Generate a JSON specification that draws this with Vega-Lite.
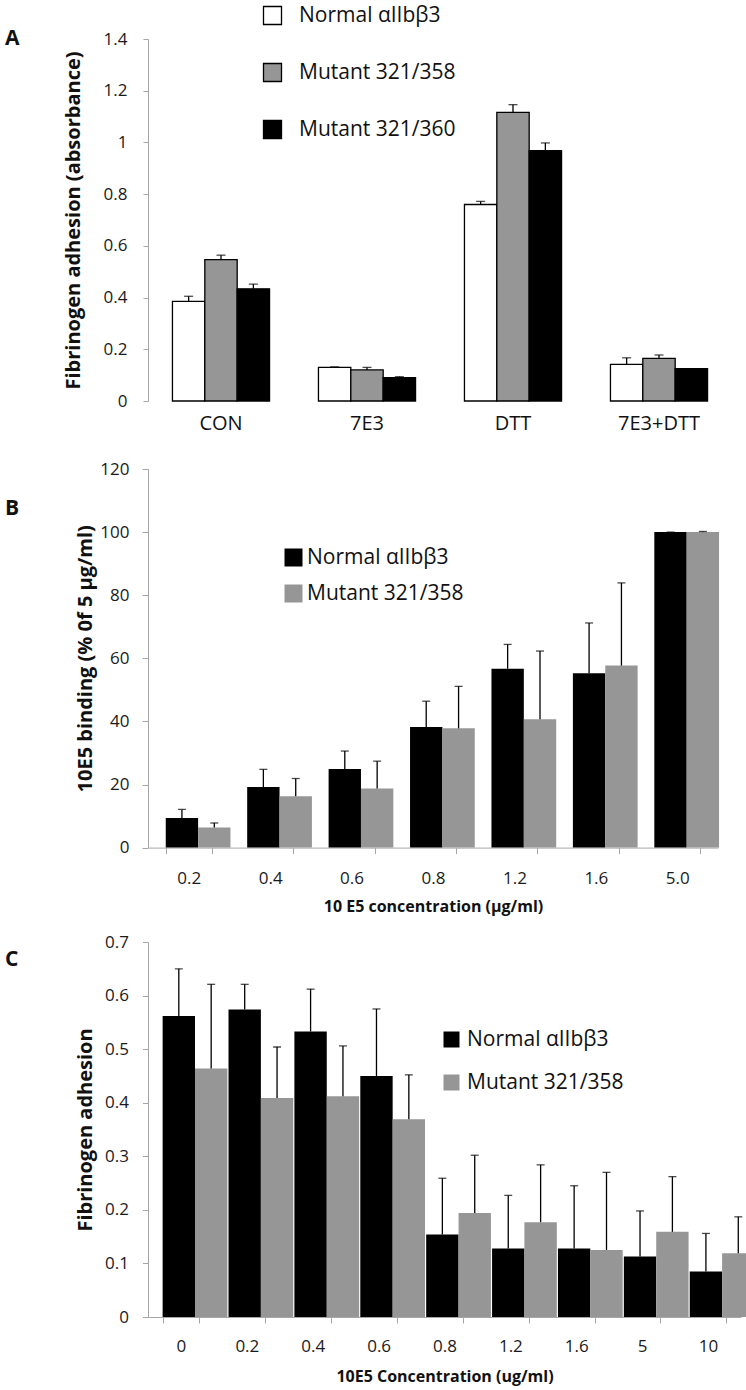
{
  "$schema": "https://vega.github.io/schema/vega-lite/v6.json",
  "background": "white",
  "padding": {"left": 5, "top": 5, "right": 5, "bottom": 5},
  "config": {
    "font": "Open Sans",
    "view": {"stroke": null},
    "axis": {"grid": false, "domainColor": "#a6a6a6", "tickColor": "#a6a6a6", "labelColor": "#1a1a1a", "titleColor": "#111111", "labelFontSize": 17, "titleFontSize": 20, "titleFontWeight": "bold", "labelFont": "Open Sans", "titleFont": "Open Sans"},
    "legend": {"labelFont": "Open Sans", "labelFontSize": 21, "labelColor": "#111111", "padding": 0, "symbolType": "square"},
    "title": {"font": "Open Sans", "fontSize": 21, "fontWeight": "bold", "color": "#111111", "anchor": "start", "frame": "group"}
  },
  "datasets": {
    "a": [
      {"condition": "CON", "series": "Normal αIIbβ3", "value": 0.385, "err": 0.405},
      {"condition": "CON", "series": "Mutant 321/358", "value": 0.547, "err": 0.564},
      {"condition": "CON", "series": "Mutant 321/360", "value": 0.434, "err": 0.452},
      {"condition": "7E3", "series": "Normal αIIbβ3", "value": 0.130, "err": 0.132},
      {"condition": "7E3", "series": "Mutant 321/358", "value": 0.120, "err": 0.130},
      {"condition": "7E3", "series": "Mutant 321/360", "value": 0.090, "err": 0.094},
      {"condition": "DTT", "series": "Normal αIIbβ3", "value": 0.760, "err": 0.772},
      {"condition": "DTT", "series": "Mutant 321/358", "value": 1.116, "err": 1.146},
      {"condition": "DTT", "series": "Mutant 321/360", "value": 0.968, "err": 0.998},
      {"condition": "7E3+DTT", "series": "Normal αIIbβ3", "value": 0.142, "err": 0.167},
      {"condition": "7E3+DTT", "series": "Mutant 321/358", "value": 0.165, "err": 0.178},
      {"condition": "7E3+DTT", "series": "Mutant 321/360", "value": 0.125, "err": 0.125}
    ],
    "b": [
      {"conc": "0.2", "series": "Normal αIIbβ3", "value": 9.4, "err": 12.1},
      {"conc": "0.2", "series": "Mutant 321/358", "value": 6.4, "err": 7.8},
      {"conc": "0.4", "series": "Normal αIIbβ3", "value": 19.2, "err": 24.8},
      {"conc": "0.4", "series": "Mutant 321/358", "value": 16.3, "err": 21.9},
      {"conc": "0.6", "series": "Normal αIIbβ3", "value": 24.9, "err": 30.6},
      {"conc": "0.6", "series": "Mutant 321/358", "value": 18.7, "err": 27.4},
      {"conc": "0.8", "series": "Normal αIIbβ3", "value": 38.2, "err": 46.4},
      {"conc": "0.8", "series": "Mutant 321/358", "value": 37.8, "err": 51.1},
      {"conc": "1.2", "series": "Normal αIIbβ3", "value": 56.7, "err": 64.4},
      {"conc": "1.2", "series": "Mutant 321/358", "value": 40.7, "err": 62.3},
      {"conc": "1.6", "series": "Normal αIIbβ3", "value": 55.3, "err": 71.2},
      {"conc": "1.6", "series": "Mutant 321/358", "value": 57.7, "err": 83.9},
      {"conc": "5.0", "series": "Normal αIIbβ3", "value": 100, "err": 100},
      {"conc": "5.0", "series": "Mutant 321/358", "value": 100, "err": 100.2}
    ],
    "c": [
      {"conc": "0", "series": "Normal αIIbβ3", "value": 0.562, "err": 0.650},
      {"conc": "0", "series": "Mutant 321/358", "value": 0.464, "err": 0.621},
      {"conc": "0.2", "series": "Normal αIIbβ3", "value": 0.574, "err": 0.621},
      {"conc": "0.2", "series": "Mutant 321/358", "value": 0.409, "err": 0.504},
      {"conc": "0.4", "series": "Normal αIIbβ3", "value": 0.533, "err": 0.612},
      {"conc": "0.4", "series": "Mutant 321/358", "value": 0.412, "err": 0.506},
      {"conc": "0.6", "series": "Normal αIIbβ3", "value": 0.450, "err": 0.575},
      {"conc": "0.6", "series": "Mutant 321/358", "value": 0.369, "err": 0.452},
      {"conc": "0.8", "series": "Normal αIIbβ3", "value": 0.154, "err": 0.259},
      {"conc": "0.8", "series": "Mutant 321/358", "value": 0.194, "err": 0.302},
      {"conc": "1.2", "series": "Normal αIIbβ3", "value": 0.128, "err": 0.227},
      {"conc": "1.2", "series": "Mutant 321/358", "value": 0.177, "err": 0.284},
      {"conc": "1.6", "series": "Normal αIIbβ3", "value": 0.128, "err": 0.245},
      {"conc": "1.6", "series": "Mutant 321/358", "value": 0.125, "err": 0.270},
      {"conc": "5", "series": "Normal αIIbβ3", "value": 0.113, "err": 0.198},
      {"conc": "5", "series": "Mutant 321/358", "value": 0.159, "err": 0.262},
      {"conc": "10", "series": "Normal αIIbβ3", "value": 0.085, "err": 0.156},
      {"conc": "10", "series": "Mutant 321/358", "value": 0.119, "err": 0.187}
    ]
  },
  "spacing": 27,
  "resolve": {"scale": {"fill": "independent"}, "legend": {"fill": "independent"}},
  "vconcat": [
    {
      "title": {"text": "A", "dx": -143, "dy": 48},
      "width": 584,
      "height": 362,
      "data": {"name": "a"},
      "encoding": {
        "x": {"field": "condition", "type": "nominal", "sort": ["CON", "7E3", "DTT", "7E3+DTT"],
              "scale": {"paddingInner": 0.335, "paddingOuter": 0.1675},
              "axis": {"title": null, "domain": false, "ticks": false, "tickSize": 0, "labelAngle": 0, "labelFontSize": 20, "labelPadding": 12, "labelColor": "#111111"}},
        "xOffset": {"field": "series", "type": "nominal", "sort": ["Normal αIIbβ3", "Mutant 321/358", "Mutant 321/360"], "scale": {"paddingInner": 0, "paddingOuter": 0}}
      },
      "layer": [
        {
          "mark": {"type": "bar", "stroke": "black", "strokeWidth": 1.3},
          "encoding": {
            "y": {"field": "value", "type": "quantitative", "scale": {"domain": [0, 1.4], "nice": false},
                  "axis": {"title": "Fibrinogen adhesion (absorbance)", "values": [0, 0.2, 0.4, 0.6, 0.8, 1, 1.2, 1.4], "format": "~g", "tickSize": 5, "labelPadding": 16, "titlePadding": 20}},
            "fill": {"field": "series", "type": "nominal", "sort": ["Normal αIIbβ3", "Mutant 321/358", "Mutant 321/360"],
                     "scale": {"domain": ["Normal αIIbβ3", "Mutant 321/358", "Mutant 321/360"], "range": ["#ffffff", "#969696", "#000000"]},
                     "legend": {"title": null, "orient": "none", "legendX": 114, "legendY": -34, "symbolSize": 324, "symbolStrokeColor": "#000000", "symbolStrokeWidth": 1.3, "rowPadding": 32, "labelOffset": 16}}
          }
        },
        {
          "mark": {"type": "rule", "color": "black", "strokeWidth": 1.3},
          "encoding": {
            "y": {"field": "value", "type": "quantitative"},
            "y2": {"field": "err"}
          }
        },
        {
          "mark": {"type": "tick", "color": "black", "thickness": 1.3, "size": 9},
          "encoding": {
            "y": {"field": "err", "type": "quantitative"}
          }
        }
      ]
    },
    {
      "spacing": 18,
      "resolve": {"scale": {"fill": "independent"}, "legend": {"fill": "independent"}},
      "vconcat": [
        {
          "title": {"text": "B", "dx": -143, "dy": 63},
          "width": 570,
          "height": 378.6,
          "data": {"name": "b"},
          "encoding": {
            "x": {"field": "conc", "type": "nominal", "sort": ["0.2", "0.4", "0.6", "0.8", "1.2", "1.6", "5.0"],
                  "scale": {"paddingInner": 0.436, "paddingOuter": 0.218},
                  "axis": {"title": "10 E5 concentration (µg/ml)", "titleFontSize": 16, "titlePadding": 12, "labelAngle": 0, "tickBand": "extent", "tickSize": 6, "labelPadding": 17}},
            "xOffset": {"field": "series", "type": "nominal", "sort": ["Normal αIIbβ3", "Mutant 321/358"], "scale": {"paddingInner": 0, "paddingOuter": 0}}
          },
          "layer": [
            {
              "mark": {"type": "bar"},
              "encoding": {
                "y": {"field": "value", "type": "quantitative", "scale": {"domain": [0, 120], "nice": false},
                      "axis": {"title": "10E5 binding (% 0f 5 µg/ml)", "values": [0, 20, 40, 60, 80, 100, 120], "tickSize": 6, "labelPadding": 13, "titlePadding": 4}},
                "fill": {"field": "series", "type": "nominal", "sort": ["Normal αIIbβ3", "Mutant 321/358"],
                         "scale": {"domain": ["Normal αIIbβ3", "Mutant 321/358"], "range": ["#000000", "#969696"]},
                         "legend": {"title": null, "orient": "none", "legendX": 135, "legendY": 78, "symbolSize": 324, "symbolStrokeWidth": 0, "rowPadding": 14, "labelOffset": 3}}
              }
            },
            {
              "mark": {"type": "rule", "color": "black", "strokeWidth": 1.3},
              "encoding": {
                "y": {"field": "value", "type": "quantitative"},
                "y2": {"field": "err"}
              }
            },
            {
              "mark": {"type": "tick", "color": "black", "thickness": 1.3, "size": 8},
              "encoding": {
                "y": {"field": "err", "type": "quantitative"}
              }
            }
          ]
        },
        {
          "title": {"text": "C", "dx": -143, "dy": 41},
          "width": 593,
          "height": 375,
          "data": {"name": "c"},
          "encoding": {
            "x": {"field": "conc", "type": "nominal", "sort": ["0", "0.2", "0.4", "0.6", "0.8", "1.2", "1.6", "5", "10"],
                  "scale": {"paddingInner": 0.444, "paddingOuter": 0.222},
                  "axis": {"title": "10E5 Concentration (ug/ml)", "titleFontSize": 16, "titlePadding": 14, "labelAngle": 0, "tickBand": "extent", "tickSize": 6, "labelPadding": 15}},
            "xOffset": {"field": "series", "type": "nominal", "sort": ["Normal αIIbβ3", "Mutant 321/358"], "scale": {"paddingInner": 0, "paddingOuter": 0}}
          },
          "layer": [
            {
              "mark": {"type": "bar"},
              "encoding": {
                "y": {"field": "value", "type": "quantitative", "scale": {"domain": [0, 0.7], "nice": false},
                      "axis": {"title": "Fibrinogen adhesion", "values": [0, 0.1, 0.2, 0.3, 0.4, 0.5, 0.6, 0.7], "format": "~g", "tickSize": 5.5, "labelPadding": 14, "titlePadding": 9}},
                "fill": {"field": "series", "type": "nominal", "sort": ["Normal αIIbβ3", "Mutant 321/358"],
                         "scale": {"domain": ["Normal αIIbβ3", "Mutant 321/358"], "range": ["#000000", "#969696"]},
                         "legend": {"title": null, "orient": "none", "legendX": 293, "legendY": 87, "symbolSize": 256, "symbolStrokeWidth": 0, "rowPadding": 21, "labelOffset": 5}}
              }
            },
            {
              "mark": {"type": "rule", "color": "black", "strokeWidth": 1.3},
              "encoding": {
                "y": {"field": "value", "type": "quantitative"},
                "y2": {"field": "err"}
              }
            },
            {
              "mark": {"type": "tick", "color": "black", "thickness": 1.3, "size": 8},
              "encoding": {
                "y": {"field": "err", "type": "quantitative"}
              }
            }
          ]
        }
      ]
    }
  ]
}
